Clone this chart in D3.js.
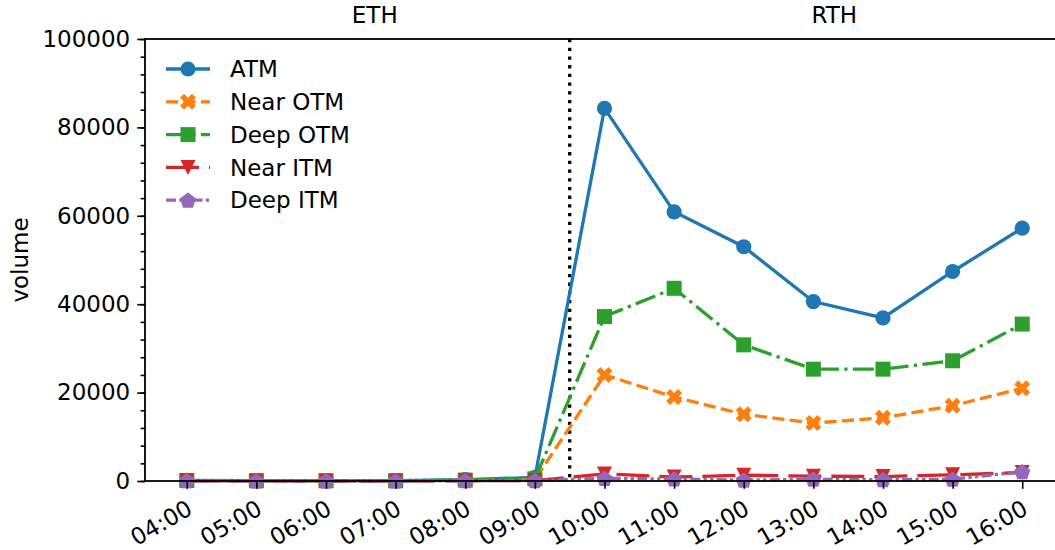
<!DOCTYPE html>
<html>
<head>
<meta charset="utf-8">
<script src="https://cdn.jsdelivr.net/npm/d3@7"></script>
<style>
  body { margin: 0; background: #fff; }
  svg { display: block; font-family: "DejaVu Sans", sans-serif; }
</style>
</head>
<body>
<div id="chart"></div>
<script>
// hourly buckets and option volume per moneyness group
const hours = ['04:00', '05:00', '06:00', '07:00', '08:00', '09:00', '10:00',
               '11:00', '12:00', '13:00', '14:00', '15:00', '16:00'];
const atm     = [150, 100, 100, 100, 300, 800, 84300, 60900, 53000, 40600, 36900, 47400, 57200];
const nearOtm = [100, 50, 50, 50, 150, 300, 24000, 19000, 15100, 13100, 14300, 17000, 21000];
const deepOtm = [100, 50, 50, 50, 200, 500, 37200, 43600, 30800, 25300, 25300, 27200, 35500];
const nearItm = [50, 20, 20, 20, 50, 100, 1600, 900, 1300, 1100, 1000, 1400, 1900];
const deepItm = [50, 20, 20, 20, 50, 100, 600, 450, 200, 400, 300, 400, 2100];
const yTicks = [0, 20000, 40000, 60000, 80000, 100000];
const sessionSplit = 5.5;   // between 09:00 and 10:00

const series = [
  {name: 'ATM',       values: atm,     color: '#1f77b4', dash: null,                     marker: 'circle'},
  {name: 'Near OTM',  values: nearOtm, color: '#ff7f0e', dash: '12.2,5.3',               marker: 'x'},
  {name: 'Deep OTM',  values: deepOtm, color: '#2ca02c', dash: '21,5.3,3.3,5.3',         marker: 'square'},
  {name: 'Near ITM',  values: nearItm, color: '#d62728', dash: '33,10',                  marker: 'tri'},
  {name: 'Deep ITM',  values: deepItm, color: '#9467bd', dash: '10,3.3,3.3,3.3,3.3,3.3', marker: 'pent'}
];

const W = 1055, H = 550;
const margin = {left: 145, top: 39, right: 1064, bottom: 481};
const FS = 23;

const svg = d3.select('#chart').append('svg')
    .attr('width', W)
    .attr('height', H);

const x = d3.scaleLinear()
    .domain([-0.6, hours.length - 1 + 0.6])
    .range([margin.left, margin.right]);

const y = d3.scaleLinear()
    .domain([0, 100000])
    .range([margin.bottom, margin.top]);

// marker shapes, roughly matplotlib sized
const markerPath = (kind) => {
  const s = 15;
  if (kind === 'circle') return d3.symbol(d3.symbolCircle, Math.PI * 7.6 * 7.6)();
  if (kind === 'square') return `M${-s / 2},${-s / 2}h${s}v${s}h${-s}Z`;
  if (kind === 'tri') return `M0,${s / 2}L${-s / 2},${-s / 2}L${s / 2},${-s / 2}Z`;
  if (kind === 'pent') {
    const r = 8.4;
    const pts = d3.range(5).map((i) => {
      const a = -Math.PI / 2 + i * 2 * Math.PI / 5;
      return [r * Math.cos(a), r * Math.sin(a) + 0.8];
    });
    return 'M' + pts.join('L') + 'Z';
  }
  // filled X
  const u = [[0.25, 0], [0.5, 0.25], [0.75, 0], [1, 0.25], [0.75, 0.5], [1, 0.75],
             [0.75, 1], [0.5, 0.75], [0.25, 1], [0, 0.75], [0.25, 0.5], [0, 0.25]];
  return 'M' + u.map((p) => [(p[0] - 0.5) * 16, (p[1] - 0.5) * 16]).join('L') + 'Z';
};

// session divider
svg.append('line')
    .attr('x1', x(sessionSplit)).attr('x2', x(sessionSplit))
    .attr('y1', y(100000)).attr('y2', y(0))
    .attr('stroke', '#000')
    .attr('stroke-width', 3.3)
    .attr('stroke-dasharray', '3.3,5.4');

// lines + markers
const line = d3.line()
    .x((d, i) => x(i))
    .y((d) => y(d));

series.forEach((s) => {
  const g = svg.append('g');
  g.append('path')
      .attr('d', line(s.values))
      .attr('fill', 'none')
      .attr('stroke', s.color)
      .attr('stroke-width', 3.3)
      .attr('stroke-dasharray', s.dash);
  g.selectAll('path.mk')
      .data(s.values)
      .enter()
      .append('path')
      .attr('class', 'mk')
      .attr('d', markerPath(s.marker))
      .attr('transform', (d, i) => `translate(${x(i)},${y(d)})`)
      .attr('fill', s.color);
});

// axes
const yAxis = d3.axisLeft(y)
    .tickValues(yTicks)
    .tickSize(7.8)
    .tickPadding(7)
    .tickFormat(d3.format('d'));

const yg = svg.append('g')
    .attr('transform', `translate(${margin.left},0)`)
    .call(yAxis);

// minor ticks every 4000
svg.append('g')
    .attr('class', 'minor')
    .attr('transform', `translate(${margin.left},0)`)
    .call(d3.axisLeft(y).tickValues(d3.range(0, 100001, 4000)).tickSize(4.4).tickFormat(''))
    .call((g) => g.select('.domain').remove());

const xAxis = d3.axisBottom(x)
    .tickValues(d3.range(hours.length))
    .tickSize(7.8)
    .tickFormat((i) => hours[i]);

const xg = svg.append('g')
    .attr('transform', `translate(0,${margin.bottom})`)
    .call(xAxis);

xg.selectAll('text')
    .attr('text-anchor', 'end')
    .attr('y', 0)
    .attr('dy', '0.76em')
    .attr('transform', 'translate(-2,17) rotate(-30)');

[yg, xg].forEach((g) => {
  g.selectAll('text').attr('font-size', FS).attr('fill', '#000')
      .attr('font-family', '"DejaVu Sans", sans-serif');
  g.select('.domain').remove();
});
svg.selectAll('g line').attr('stroke', '#000').attr('stroke-width', 1.6);

// spines
svg.append('rect')
    .attr('x', margin.left)
    .attr('y', margin.top)
    .attr('width', margin.right - margin.left)
    .attr('height', margin.bottom - margin.top)
    .attr('fill', 'none')
    .attr('stroke', '#000')
    .attr('stroke-width', 1.8);

// session labels
const frac = (f) => margin.left + f * (margin.right - margin.left);
svg.append('text').attr('x', frac(0.25)).attr('y', 23)
    .attr('text-anchor', 'middle').attr('font-size', FS).text('ETH');
svg.append('text').attr('x', frac(0.75)).attr('y', 23)
    .attr('text-anchor', 'middle').attr('font-size', FS).text('RTH');

// y label
svg.append('text')
    .attr('transform', `translate(28,${(margin.top + margin.bottom) / 2}) rotate(-90)`)
    .attr('text-anchor', 'middle')
    .attr('font-size', FS)
    .text('volume');

// legend
const legend = svg.append('g').attr('transform', 'translate(166,69)');
series.forEach((s, i) => {
  const row = legend.append('g').attr('transform', `translate(0,${i * 32.8})`);
  row.append('line')
      .attr('x1', 0).attr('x2', 44)
      .attr('stroke', s.color)
      .attr('stroke-width', 3.3)
      .attr('stroke-dasharray', s.dash);
  row.append('path')
      .attr('d', markerPath(s.marker))
      .attr('transform', 'translate(22,0)')
      .attr('fill', s.color);
  row.append('text')
      .attr('x', 64)
      .attr('dy', '0.36em')
      .attr('font-size', FS)
      .text(s.name);
});
</script>
</body>
</html>
